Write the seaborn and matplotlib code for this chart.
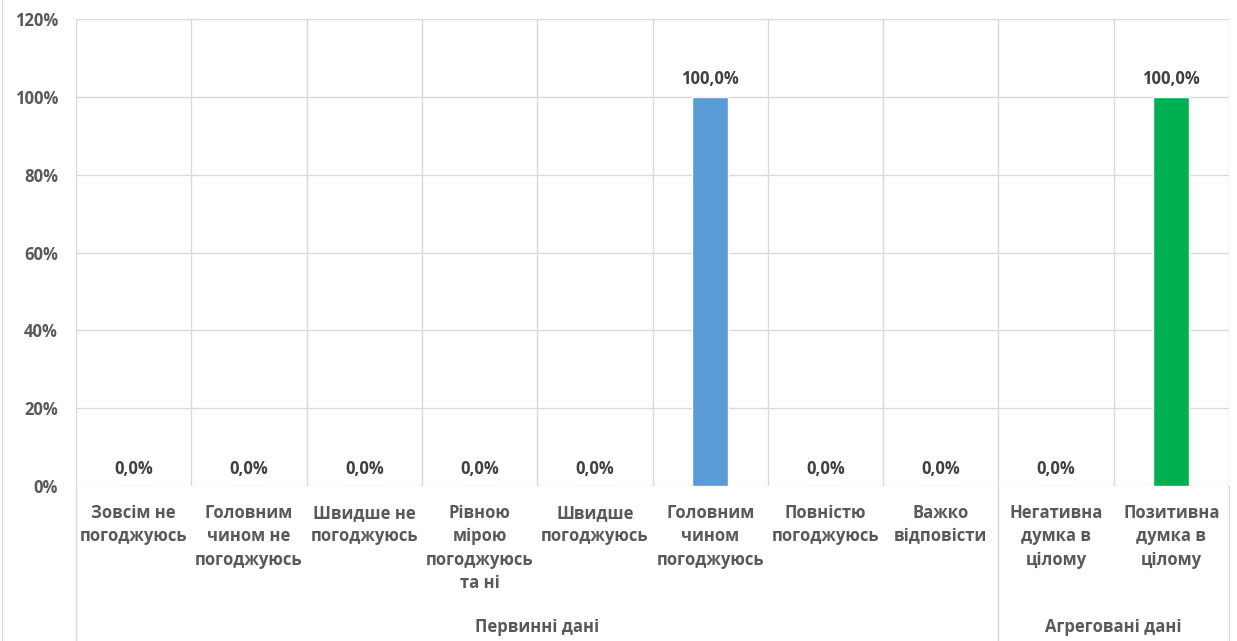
import matplotlib
matplotlib.use("Agg")
import matplotlib.pyplot as plt
import matplotlib.transforms as mtransforms
import seaborn as sns

# data
categories = [
    "Зовсім не\nпогоджуюсь",
    "Головним\nчином не\nпогоджуюсь",
    "Швидше не\nпогоджуюсь",
    "Рівною\nмірою\nпогоджуюсь\nта ні",
    "Швидше\nпогоджуюсь",
    "Головним\nчином\nпогоджуюсь",
    "Повністю\nпогоджуюсь",
    "Важко\nвідповісти",
    "Негативна\nдумка в\nцілому",
    "Позитивна\nдумка в\nцілому",
]
values = [0.0, 0.0, 0.0, 0.0, 0.0, 100.0, 0.0, 0.0, 0.0, 100.0]
group_names = ["Первинні дані", "Агреговані дані"]
group_sizes = [8, 2]
bar_colors = ["#5B9BD5"] * 8 + ["#00B050"] * 2

sns.set_theme(style="white")
plt.rcParams["font.family"] = ["Open Sans", "DejaVu Sans"]
plt.rcParams["font.weight"] = "bold"

text_col = "#595959"
grid_col = "#D9D9D9"
fs = 12

fig = plt.figure(figsize=(12.37, 6.41), dpi=100)
W, H = 1237, 641
x0, x1, y0, y1 = 76, 1229, 486, 19
ax = fig.add_axes([x0 / W, 1 - y0 / H, (x1 - x0) / W, (y0 - y1) / H])

sns.barplot(x=list(range(len(values))), y=values, hue=list(range(len(values))),
            palette=bar_colors, legend=False, width=0.31, ax=ax, zorder=3,
            saturation=1)

ax.set_ylim(0, 120)
ax.set_xlim(-0.5, len(values) - 0.5)
ax.set_yticks(range(0, 121, 20))
ax.set_yticklabels([f"{v}%" for v in range(0, 121, 20)], fontsize=fs,
                   fontweight="bold", color=text_col)
ax.set_xticks(range(len(categories)))
ax.set_xticklabels(categories, fontsize=fs, fontweight="bold", color=text_col,
                   linespacing=1.38, va="top")
ax.set_xticks([i - 0.5 for i in range(len(categories) + 1)], minor=True)
ax.tick_params(axis="y", length=0, pad=13)
ax.tick_params(axis="x", which="both", length=0, pad=13)
ax.set_xlabel("")
ax.set_ylabel("")

ax.grid(axis="y", color=grid_col, linewidth=1, zorder=0)
ax.grid(axis="x", which="minor", color=grid_col, linewidth=1, zorder=0)
ax.grid(axis="x", which="major", visible=False)
for s in ax.spines.values():
    s.set_visible(False)

# data labels
for i, v in enumerate(values):
    ax.annotate(f"{v:.1f}%".replace(".", ","), (i, v), xytext=(0, 6),
                textcoords="offset points", ha="center", va="bottom",
                fontsize=fs, fontweight="bold", color="#404040")

# group labels and separators below the axis
trans = mtransforms.blended_transform_factory(ax.transData, ax.transAxes)
bottom = -(H - y0) / (y0 - y1)
start = 0
seps = [-0.5]
for name, n in zip(group_names, group_sizes):
    centre = start + (n - 1) / 2
    ax.text(centre, -0.302, name, transform=trans, ha="center", va="center",
            fontsize=fs, fontweight="bold", color=text_col)
    start += n
    seps.append(start - 0.5)
for sx in seps:
    ax.plot([sx, sx], [0, bottom], transform=trans, color=grid_col,
            linewidth=1, clip_on=False)

# chart border on the left edge
fig.add_artist(plt.Line2D([1.5 / W, 1.5 / W], [0, 1], color=grid_col, linewidth=1))

fig.savefig("out.png", dpi=100)
